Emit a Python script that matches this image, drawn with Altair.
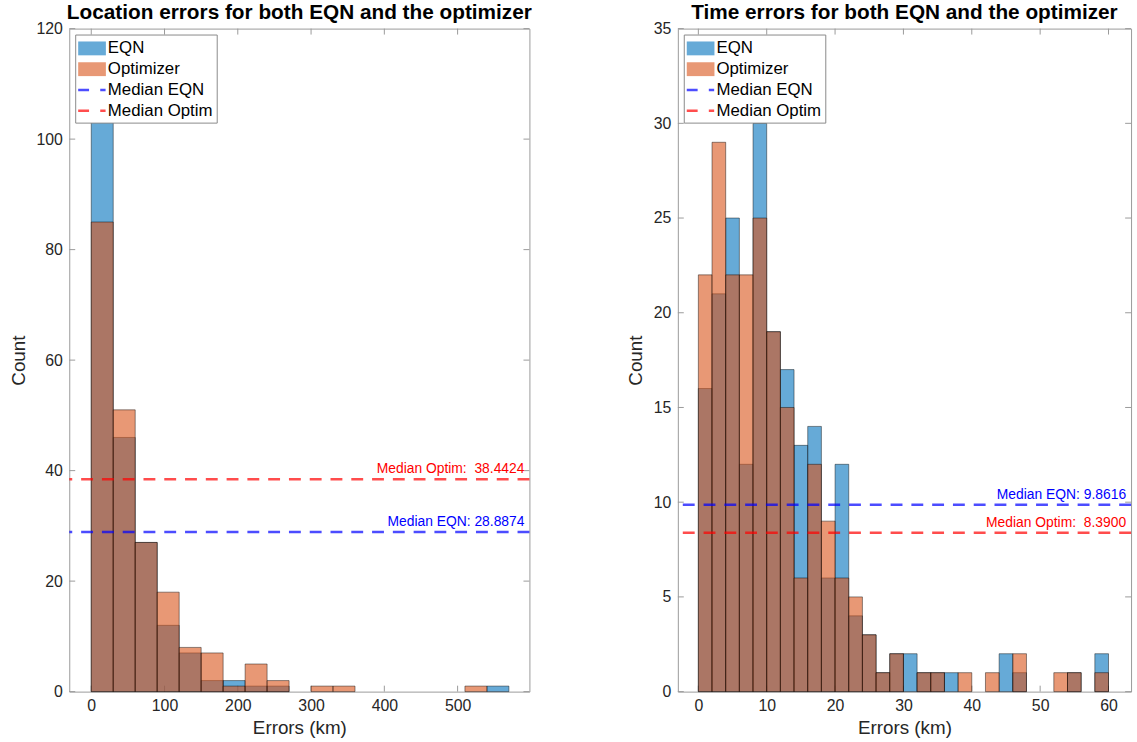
import altair as alt
import pandas as pd

# ---------------- data ----------------
# Location errors (km), bins of 30 km
loc_bin_start = [0, 30, 60, 90, 120, 150, 180, 210, 240, 270, 300, 330, 360,
                 390, 420, 450, 480, 510, 540]
loc_bin_width = 30
loc_eqn = [108, 46, 27, 12, 7, 2, 2, 1, 1, 0, 0, 0, 0, 0, 0, 0, 0, 0, 1]
loc_opt = [85, 51, 27, 18, 8, 7, 1, 5, 2, 0, 1, 1, 0, 0, 0, 0, 0, 1, 0]
loc_median_eqn = 28.8874
loc_median_opt = 38.4424
loc_xticks = [0, 100, 200, 300, 400, 500]
loc_yticks = [0, 20, 40, 60, 80, 100, 120]

# Time errors, bins of 2
time_bin_start = [0, 2, 4, 6, 8, 10, 12, 14, 16, 18, 20, 22, 24, 26, 28, 30,
                  32, 34, 36, 38, 40, 42, 44, 46, 48, 50, 52, 54, 56, 58]
time_bin_width = 2
time_eqn = [16, 21, 25, 12, 30, 19, 17, 13, 14, 6, 12, 4, 3, 1, 2, 2,
            1, 1, 1, 0, 0, 0, 2, 1, 0, 0, 0, 1, 0, 2]
time_opt = [22, 29, 22, 22, 25, 19, 15, 6, 12, 9, 6, 5, 3, 1, 2, 0,
            1, 1, 0, 1, 0, 1, 0, 2, 0, 0, 1, 1, 0, 1]
time_median_eqn = 9.8616
time_median_opt = 8.3900
time_xticks = [0, 10, 20, 30, 40, 50, 60]
time_yticks = [0, 5, 10, 15, 20, 25, 30, 35]

series_names = ["EQN", "Optimizer", "Median EQN", "Median Optim"]

# ---------------- style ----------------
FONT = "Liberation Sans"
TEXT_COLOR = "#262626"
BOX_COLOR = "#9a9a9a"
EQN_COLOR = "#0072BD"
OPT_COLOR = "#D95319"
TICK_LEN = 6
NBSP = "\u00a0"

# legend glyphs (unit = half the symbol size): a wide filled patch, and a
# dashed stroke drawn as two thin bars
PATCH = "M-1.4,-0.7H1.4V0.7H-1.4Z"
DASH = "M-1.4,-0.12H-0.3V0.12H-1.4Z M0.83,-0.12H1.37V0.12H0.83Z"


def histogram_frame(starts, width, counts, name):
    rows = []
    for s, c in zip(starts, counts):
        if c > 0:
            rows.append({"start": s, "end": s + width, "count": c, "series": name})
    return pd.DataFrame(rows)


def panel(title, starts, width, eqn, opt, med_eqn, med_opt,
          x_domain, x_ticks, y_top, y_ticks, W, H):
    xs = alt.Scale(domain=x_domain, nice=False, zero=False)
    ys = alt.Scale(domain=[0, y_top], nice=False)
    x_axis = alt.Axis(values=x_ticks, title="Errors (km)", grid=False,
                      ticks=False, domain=False, labelPadding=6, titlePadding=5)
    y_axis = alt.Axis(values=y_ticks, title="Count", grid=False,
                      ticks=False, domain=False, labelPadding=7, titlePadding=8)

    xt = pd.DataFrame({"v": x_ticks})
    yt = pd.DataFrame({"v": y_ticks})

    # inward tick marks on all four sides of the box
    tick_style = dict(color=BOX_COLOR, strokeWidth=1)
    ticks_left = alt.Chart(yt).mark_rule(**tick_style).encode(
        y=alt.Y("v:Q", scale=ys, axis=y_axis), x=alt.value(0), x2=alt.value(TICK_LEN))
    ticks_right = alt.Chart(yt).mark_rule(**tick_style).encode(
        y=alt.Y("v:Q", scale=ys, axis=y_axis), x=alt.value(W - TICK_LEN), x2=alt.value(W))
    ticks_bottom = alt.Chart(xt).mark_rule(**tick_style).encode(
        x=alt.X("v:Q", scale=xs, axis=x_axis), y=alt.value(H - TICK_LEN), y2=alt.value(H))
    ticks_top = alt.Chart(xt).mark_rule(**tick_style).encode(
        x=alt.X("v:Q", scale=xs, axis=x_axis), y=alt.value(0), y2=alt.value(TICK_LEN))

    def bars(df, color):
        return alt.Chart(df).mark_bar(
            fill=color, fillOpacity=0.6, stroke="black", strokeOpacity=0.55,
            strokeWidth=0.8
        ).encode(
            x=alt.X("start:Q", scale=xs, axis=x_axis),
            x2="end:Q",
            y=alt.Y("count:Q", scale=ys, axis=y_axis),
            y2=alt.datum(0),
        )

    eqn_bars = bars(histogram_frame(starts, width, eqn, "EQN"), EQN_COLOR)
    opt_bars = bars(histogram_frame(starts, width, opt, "Optimizer"), OPT_COLOR)

    def median_line(value, color):
        df = pd.DataFrame({"value": [value]})
        return alt.Chart(df).mark_rule(
            stroke=color, strokeWidth=2.5, strokeDash=[12, 9], strokeOpacity=0.7
        ).encode(y=alt.Y("value:Q", scale=ys, axis=y_axis))

    def median_text(value, label, color):
        df = pd.DataFrame({"value": [value], "label": [label]})
        return alt.Chart(df).mark_text(
            align="right", baseline="alphabetic", dy=-6, fontSize=14, font=FONT,
            color=color
        ).encode(
            y=alt.Y("value:Q", scale=ys, axis=y_axis),
            x=alt.value(W - 5),
            text="label:N",
        )

    # legend entries come from the explicit scale domains; the layer itself
    # draws nothing
    legend_df = pd.DataFrame({"series": series_names})
    leg = alt.Legend(
        title=None, orient="top-left", offset=6, labelFont=FONT, labelFontSize=17,
        labelColor="black", symbolSize=400, fillColor="white", strokeColor="#8a8a8a",
        padding=4, rowPadding=3, labelOffset=6, symbolOffset=3,
        symbolStrokeWidth=0, symbolOpacity=1,
    )
    legend_layer = alt.Chart(legend_df).transform_filter("false").mark_point(
        filled=True
    ).encode(
        color=alt.Color("series:N", sort=series_names, legend=leg,
                        scale=alt.Scale(domain=series_names,
                                        range=["#66aad7", "#e89875", "#4d4dff", "#ff4d4d"])),
        shape=alt.Shape("series:N", sort=series_names, legend=leg,
                        scale=alt.Scale(domain=series_names,
                                        range=[PATCH, PATCH, DASH, DASH])),
    )

    return alt.layer(
        ticks_left, ticks_right, ticks_bottom, ticks_top,
        eqn_bars, opt_bars,
        median_line(med_eqn, "blue"), median_line(med_opt, "red"),
        median_text(med_eqn, f"Median EQN: {med_eqn:.4f}", "blue"),
        median_text(med_opt, f"Median Optim:{NBSP} {med_opt:.4f}", "red"),
        legend_layer,
    ).properties(
        width=W, height=H,
        title=alt.TitleParams(title, fontSize=21, fontWeight="bold", font=FONT,
                              color="black", offset=-2, anchor="middle"),
    )


left = panel("Location errors for both EQN and the optimizer",
             loc_bin_start, loc_bin_width, loc_eqn, loc_opt,
             loc_median_eqn, loc_median_opt,
             [-30, 598], loc_xticks, 120, loc_yticks, 465, 670)
right = panel("Time errors for both EQN and the optimizer",
              time_bin_start, time_bin_width, time_eqn, time_opt,
              time_median_eqn, time_median_opt,
              [-3, 63.3], time_xticks, 35, time_yticks, 458, 670)

chart = alt.hconcat(left, right, spacing=93).resolve_scale(
    color="independent", shape="independent"
).resolve_legend(color="independent", shape="independent").properties(
    padding={"left": 8, "top": -3, "right": 4, "bottom": 0},
    background="white",
).configure_view(
    stroke=BOX_COLOR, strokeWidth=1
).configure_axis(
    labelFont=FONT, labelFontSize=16, labelColor=TEXT_COLOR,
    titleFont=FONT, titleFontSize=19, titleFontWeight="normal", titleColor=TEXT_COLOR,
)

chart.save("out.html", embed_options={"renderer": "svg", "actions": False})
